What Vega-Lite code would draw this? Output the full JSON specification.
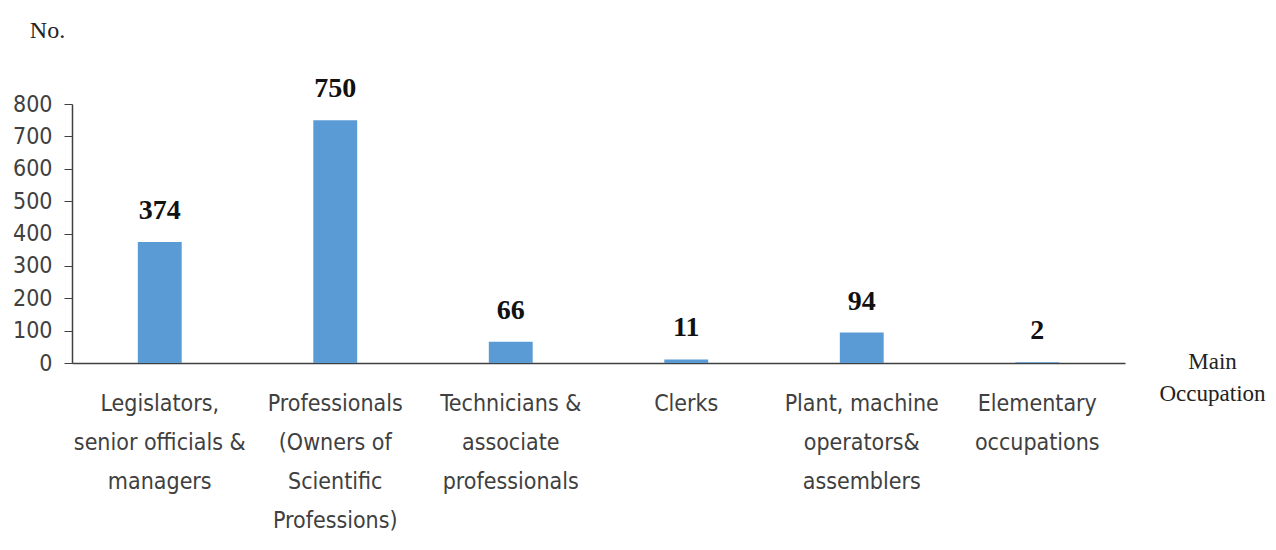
{
  "$schema": "https://vega.github.io/schema/vega-lite/v6.json",
  "autosize": {"type": "none"},
  "padding": {"left": 72, "top": 104, "right": 151, "bottom": 187},
  "width": 1053,
  "height": 259,
  "background": "white",
  "data": {
    "values": [
      {"occupation": "Legislators,|senior officials &|managers", "count": 374},
      {"occupation": "Professionals|(Owners of|Scientific|Professions)", "count": 750},
      {"occupation": "Technicians &|associate|professionals", "count": 66},
      {"occupation": "Clerks", "count": 11},
      {"occupation": "Plant, machine|operators&|assemblers", "count": 94},
      {"occupation": "Elementary|occupations", "count": 2}
    ]
  },
  "config": {"view": {"stroke": null}},
  "encoding": {
    "x": {
      "field": "occupation",
      "type": "nominal",
      "sort": null,
      "scale": {"paddingInner": 0.75, "paddingOuter": 0.375},
      "axis": {
        "title": ["Main", "Occupation"],
        "titleFont": "Liberation Serif",
        "titleFontWeight": "normal",
        "titleFontSize": 23,
        "titleColor": "#222222",
        "titleLineHeight": 32,
        "titleX": 1140,
        "titleY": 5,
        "titleAlign": "center",
        "titleBaseline": "alphabetic",
        "labelExpr": "split(datum.label, '|')",
        "labelAngle": 0,
        "labelFont": "DejaVu Sans Condensed, Liberation Sans",
        "labelFontSize": 23,
        "labelLineHeight": 39,
        "labelColor": "#404040",
        "labelPadding": 29,
        "labelBaseline": "top",
        "labelLimit": 400,
        "ticks": false,
        "domainColor": "#404040",
        "domainWidth": 1.5
      }
    },
    "y": {
      "field": "count",
      "type": "quantitative",
      "scale": {"domain": [0, 800]},
      "axis": {
        "values": [0, 100, 200, 300, 400, 500, 600, 700, 800],
        "grid": false,
        "title": "No.",
        "titleAngle": 0,
        "titleFont": "Liberation Serif",
        "titleFontWeight": "normal",
        "titleFontSize": 24,
        "titleColor": "#222222",
        "titleX": -25,
        "titleY": -67,
        "titleAlign": "center",
        "titleBaseline": "alphabetic",
        "labelFont": "DejaVu Sans Condensed, Liberation Sans",
        "labelFontSize": 23,
        "labelColor": "#404040",
        "labelPadding": 12,
        "tickSize": 8,
        "tickColor": "#404040",
        "domainColor": "#404040",
        "domainWidth": 1.5
      }
    }
  },
  "layer": [
    {"mark": {"type": "bar", "color": "#5B9BD5"}},
    {
      "mark": {
        "type": "text",
        "font": "Liberation Serif",
        "fontWeight": "bold",
        "fontSize": 28,
        "color": "#111111",
        "baseline": "alphabetic",
        "align": "center",
        "dy": -23
      },
      "encoding": {"text": {"field": "count", "type": "quantitative"}}
    }
  ]
}
